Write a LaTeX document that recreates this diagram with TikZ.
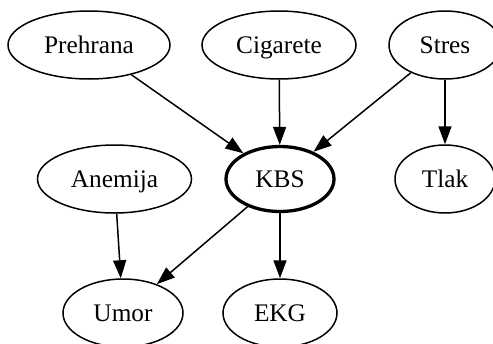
\documentclass[tikz,border=0pt]{standalone}
\usepackage{fontspec}
\setmainfont{Liberation Serif}
\usetikzlibrary{shapes.geometric,arrows.meta}
\begin{document}
\begin{tikzpicture}[x=1pt,y=-1pt,
  nd/.style={ellipse,draw,line width=1.5pt,inner sep=0pt,text height=23pt,text depth=6pt,font=\fontsize{25.3}{30}\selectfont},
  edge/.style={line width=1.5pt,-{Triangle[length=18pt,width=13pt]}}]
\useasboundingbox (0,0) rectangle (493,343);
\node[nd,minimum width=162pt,minimum height=68pt] (pre) at (89,45) {Prehrana};
\node[nd,minimum width=154pt,minimum height=68pt] (cig) at (279,45) {Cigarete};
\node[nd,minimum width=112pt,minimum height=68pt] (str) at (445,45) {Stres};
\node[nd,minimum width=154pt,minimum height=68pt] (ane) at (114.5,179) {Anemija};
\node[nd,line width=3.3pt,minimum width=108pt,minimum height=65pt] (kbs) at (280,179) {KBS};
\node[nd,minimum width=100pt,minimum height=68pt] (tla) at (445,179) {Tlak};
\node[nd,minimum width=120pt,minimum height=68pt] (umo) at (123,313) {Umor};
\node[nd,minimum width=114pt,minimum height=68pt] (ekg) at (280,313) {EKG};
\draw[edge] (pre) -- (kbs);
\draw[edge] (cig) -- (kbs);
\draw[edge] (str) -- (kbs);
\draw[edge] (str) -- (tla);
\draw[edge] (ane) -- (umo);
\draw[edge] (kbs) -- (umo);
\draw[edge] (kbs) -- (ekg);
\end{tikzpicture}
\end{document}
